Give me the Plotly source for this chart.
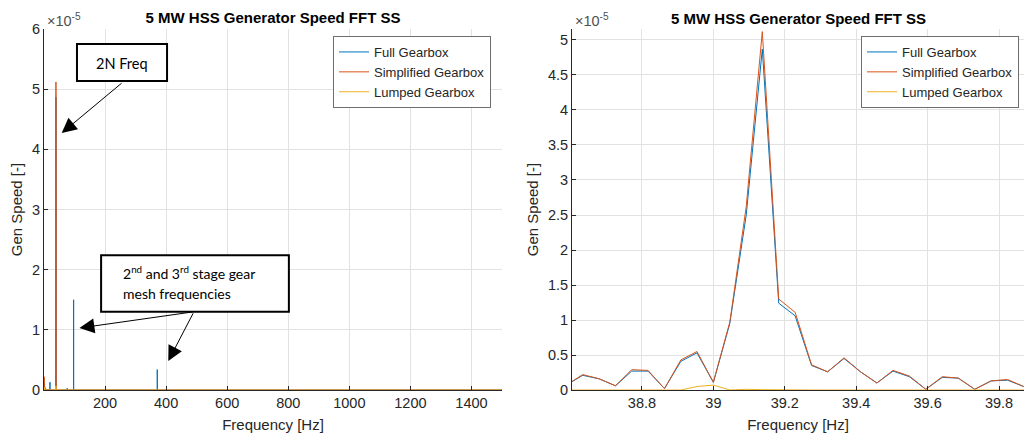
import plotly.graph_objects as go

# ---------------- data (Gen Speed values in units of 1e-5) ----------------
freq_hz = [0.0, 0.5, 1.0, 2.0, 4.0, 19.5, 19.6, 19.7, 38.5,
           38.588, 38.634, 38.680, 38.726, 38.771, 38.817, 38.863, 38.909, 38.954,
           39.000, 39.046, 39.092, 39.137, 39.183, 39.229, 39.275, 39.320, 39.366,
           39.412, 39.458, 39.503, 39.549, 39.595, 39.641, 39.686, 39.732, 39.778,
           39.824, 39.869, 39.915,
           40.0, 75.9, 76.0, 76.1, 96.9, 97.0, 97.1, 370.9, 371.0, 371.1, 1500.0]

full_gearbox = [0.0, 0.10, 0.12, 0.05, 0.01, 0.0, 0.13, 0.0, 0.0,
                0.07, 0.21, 0.16, 0.06, 0.27, 0.27, 0.02, 0.41, 0.53,
                0.11, 0.95, 2.50, 4.87, 1.24, 1.06, 0.35, 0.26, 0.45,
                0.26, 0.10, 0.27, 0.19, 0.01, 0.18, 0.17, 0.01, 0.13,
                0.14, 0.05, 0.03,
                0.0, 0.0, 0.03, 0.0, 0.0, 1.50, 0.0, 0.0, 0.34, 0.0, 0.0]

simplified_gearbox = [0.0, 0.22, 0.15, 0.06, 0.01, 0.0, 0.02, 0.0, 0.0,
                      0.07, 0.22, 0.16, 0.06, 0.29, 0.28, 0.02, 0.43, 0.55,
                      0.11, 0.97, 2.62, 5.12, 1.30, 1.11, 0.36, 0.26, 0.46,
                      0.26, 0.10, 0.28, 0.20, 0.01, 0.19, 0.17, 0.01, 0.13,
                      0.15, 0.05, 0.03,
                      0.0, 0.0, 0.0, 0.0, 0.0, 0.0, 0.0, 0.0, 0.0, 0.0, 0.0]

lumped_gearbox = [0.0, 0.05, 0.03, 0.01, 0.0, 0.0, 0.0, 0.0, 0.0,
                  0.0, 0.0, 0.0, 0.0, 0.0, 0.0, 0.0, 0.0, 0.05,
                  0.07, 0.0, 0.01, 0.005, 0.0, 0.0, 0.0, 0.0, 0.0,
                  0.0, 0.0, 0.0, 0.0, 0.0, 0.0, 0.0, 0.0, 0.0,
                  0.0, 0.0, 0.0,
                  0.0, 0.0, 0.0, 0.0, 0.0, 0.0, 0.0, 0.0, 0.0, 0.0, 0.0]

series_names = ["Full Gearbox", "Simplified Gearbox", "Lumped Gearbox"]
series_values = [full_gearbox, simplified_gearbox, lumped_gearbox]
series_colors = ["#0072BD", "#D95319", "#EDB120"]

left_xticks = [200, 400, 600, 800, 1000, 1200, 1400]
right_xticks = [38.8, 39.0, 39.2, 39.4, 39.6, 39.8]
right_xticklabels = ["38.8", "39", "39.2", "39.4", "39.6", "39.8"]

title_text = "5 MW HSS Generator Speed FFT SS"

# ---------------- figure ----------------
W, H = 1024, 441
T, B = 29, 51
PH = H - T - B
def py(p):  # pixel y -> paper y
    return (H - B - p) / PH
def px(p):
    return p / W

fig = go.Figure()
for name, vals, col in zip(series_names, series_values, series_colors):
    fig.add_trace(go.Scatter(x=freq_hz, y=vals, mode="lines", name=name,
                             line=dict(color=col, width=1), xaxis="x", yaxis="y",
                             legend="legend"))
for name, vals, col in zip(series_names, series_values, series_colors):
    fig.add_trace(go.Scatter(x=freq_hz, y=vals, mode="lines", name=name,
                             line=dict(color=col, width=1), xaxis="x2", yaxis="y2",
                             legend="legend2"))

AX = "#262626"
GRID = "#e2e2e2"
FONT = "Liberation Sans, Arial, sans-serif"
common_axis = dict(showgrid=True, gridcolor=GRID, gridwidth=1, zeroline=False,
                   showline=True, linecolor=AX, linewidth=1, ticks="inside",
                   ticklen=4, tickcolor=AX, tickfont=dict(family=FONT, size=14.5, color=AX),
                   mirror=False)

legend_common = dict(bgcolor="white", bordercolor="#6e6e6e", borderwidth=1,
                     font=dict(family=FONT, size=13, color=AX),
                     xanchor="right", yanchor="top", tracegroupgap=0,
                     itemwidth=30)

fig.update_layout(
    width=W, height=H,
    margin=dict(l=0, r=0, t=T, b=B, pad=0),
    paper_bgcolor="white", plot_bgcolor="white",
    showlegend=True,
    xaxis=dict(domain=[px(44), px(502)], range=[0, 1500], tickvals=left_xticks,
               anchor="y", title=dict(text="Frequency [Hz]", standoff=9,
                                      font=dict(family=FONT, size=15, color=AX)),
               **common_axis),
    yaxis=dict(domain=[0, 1], range=[0, 6], dtick=1, anchor="x",
               title=dict(text="Gen Speed [-]", standoff=5,
                          font=dict(family=FONT, size=15, color=AX)),
               **common_axis),
    xaxis2=dict(domain=[px(572), 1.0], range=[38.604, 39.87], tickvals=right_xticks,
                ticktext=right_xticklabels, anchor="y2",
                title=dict(text="Frequency [Hz]", standoff=9,
                           font=dict(family=FONT, size=15, color=AX)),
                **common_axis),
    yaxis2=dict(domain=[0, 1], range=[0, 5.157], dtick=0.5, anchor="x2",
                title=dict(text="Gen Speed [-]", standoff=5,
                           font=dict(family=FONT, size=15, color=AX)),
                **common_axis),
    legend=dict(x=px(491), y=py(36), **legend_common),
    legend2=dict(x=px(1019), y=py(36), **legend_common),
    title=dict(text="<b>" + title_text + "</b>", x=px(273), xanchor="center",
               y=1 - 18 / H, yanchor="middle", font=dict(family=FONT, size=15, color="black")),
)

ann = []
ann.append(dict(text="<b>" + title_text + "</b>", x=px(798), y=py(18), xref="paper", yref="paper",
                showarrow=False, xanchor="center", yanchor="middle",
                font=dict(family=FONT, size=15, color="black")))
for lx in (45, 573):
    ann.append(dict(text="\u00d710<sup>-5</sup>", x=px(lx), y=py(20), xref="paper", yref="paper",
                    showarrow=False, xanchor="left", yanchor="middle",
                    font=dict(family=FONT, size=14.5, color="#505050")))

BOXFONT = "Lato, Open Sans, sans-serif"
ann.append(dict(text="2N Freq", x=255.5, y=5.43, xref="x", yref="y", showarrow=False,
                xanchor="center", yanchor="middle", font=dict(family=BOXFONT, size=14.5, color="black")))
ann.append(dict(text="2<sup>nd</sup> and 3<sup>rd</sup> stage gear",
                x=475, y=1.95, xref="x", yref="y", showarrow=False,
                xanchor="center", yanchor="middle", font=dict(family=BOXFONT, size=14, color="black")))
ann.append(dict(text="mesh frequencies",
                x=436, y=1.61, xref="x", yref="y", showarrow=False,
                xanchor="center", yanchor="middle", font=dict(family=BOXFONT, size=14, color="black")))

arrows = [((58, 4.27), (259, 5.12)), ((116, 1.03), (491, 1.30)), ((407, 0.48), (491, 1.30))]
for (tx, ty), (sx, sy) in arrows:
    ann.append(dict(text="", x=tx, y=ty, ax=sx, ay=sy, xref="x", yref="y", axref="x", ayref="y",
                    showarrow=True, arrowhead=2, arrowsize=3, arrowwidth=1, arrowcolor="black",
                    standoff=0))
fig.update_layout(annotations=ann)

fig.add_shape(type="rect", x0=108, x1=403, y0=5.135, y1=5.75, xref="x", yref="y",
              line=dict(color="black", width=2), fillcolor="white", layer="above")
fig.add_shape(type="rect", x0=187, x1=802, y0=1.30, y1=2.24, xref="x", yref="y",
              line=dict(color="black", width=2), fillcolor="white", layer="above")

fig.write_html("out.html")
